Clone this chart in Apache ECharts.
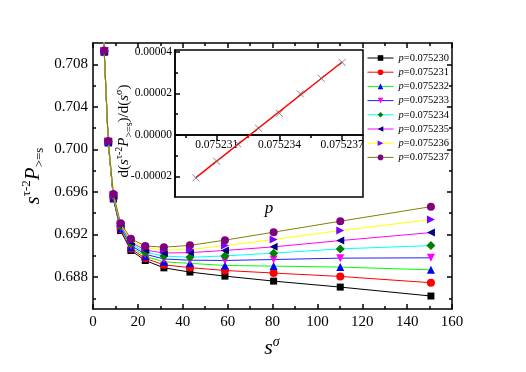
<!DOCTYPE html>
<html><head><meta charset="utf-8">
<script src="https://cdn.jsdelivr.net/npm/echarts@6/dist/echarts.min.js"></script>
<style>html,body{margin:0;padding:0;background:#fff}#c{width:526px;height:372px}</style>
</head><body><div id="c"></div>
<script>
// ---- data ----
const sSigma = [3.7, 5.0, 6.8, 9.1, 12.3, 16.9, 23.3, 31.6, 43.2, 58.8, 80.5, 110.2, 150.6];
const pNames = ['p=0.075230','p=0.075231','p=0.075232','p=0.075233','p=0.075234','p=0.075235','p=0.075236','p=0.075237'];
const y230 = [0.7178, 0.70915, 0.70062, 0.69534, 0.69237, 0.69050, 0.68956, 0.68887, 0.68847, 0.68809, 0.68762, 0.68706, 0.68622];
const y231 = [0.7179, 0.70917, 0.70065, 0.69541, 0.69247, 0.69066, 0.68976, 0.68915, 0.68889, 0.68862, 0.68838, 0.68806, 0.68747];
const y232 = [0.7179, 0.70919, 0.70067, 0.69547, 0.69257, 0.69081, 0.68995, 0.68943, 0.68929, 0.68909, 0.68903, 0.68894, 0.68868];
const y233 = [0.7180, 0.70921, 0.70070, 0.69554, 0.69267, 0.69097, 0.69015, 0.68970, 0.68959, 0.68956, 0.68965, 0.68978, 0.68981];
const y234 = [0.7180, 0.70923, 0.70072, 0.69561, 0.69277, 0.69113, 0.69034, 0.68998, 0.68986, 0.68999, 0.69025, 0.69065, 0.69096];
const y235 = [0.7181, 0.70925, 0.70075, 0.69567, 0.69287, 0.69128, 0.69054, 0.69026, 0.69030, 0.69050, 0.69084, 0.69143, 0.69218];
const y236 = [0.7181, 0.70928, 0.70077, 0.69574, 0.69297, 0.69144, 0.69074, 0.69054, 0.69058, 0.69096, 0.69153, 0.69237, 0.69340];
const y237 = [0.7182, 0.70930, 0.70080, 0.69581, 0.69307, 0.69160, 0.69093, 0.69081, 0.69098, 0.69147, 0.69222, 0.69325, 0.69462];
const mainYMajor = [0.688, 0.692, 0.696, 0.700, 0.704, 0.708];
const mainYMinor = [0.686, 0.690, 0.694, 0.698, 0.702, 0.706];
// inset
const insetP = [0.075230, 0.075231, 0.075232, 0.075233, 0.075234, 0.075235, 0.075236, 0.075237];
const insetD = [-2.08e-5, -1.28e-5, -0.43e-5, 0.32e-5, 1.04e-5, 1.98e-5, 2.73e-5, 3.50e-5];
const fitP = [0.075230, 0.075237];
const fitD = [-2.06e-5, 3.52e-5];
const insetXMajor = [0.075231, 0.075234, 0.075237];
const insetXMinor = [0.0752295, 0.0752325, 0.0752355];
const insetYMajor = [-0.00002, 0, 0.00002, 0.00004];
const insetYMinor = [-0.00001, 0.00001, 0.00003];
const insetYRange = [-0.00003, 0.000041];

// ---- layout / styles ----
const F = 'Liberation Serif';
const insetGrid = {left: 175, top: 50, right: 163, bottom: 175};
const insetH = 372 - insetGrid.top - insetGrid.bottom;
// place inset x axis at y = 0 (axis crosses zero)
const zeroOffset = -(0 - insetYRange[0]) / (insetYRange[1] - insetYRange[0]) * insetH;

const seriesY = [y230, y231, y232, y233, y234, y235, y236, y237];
const lineColors = ['#000000', '#ff0000', '#00ff00', '#2020ff', '#00ffff', '#ff00ff', '#ffff00', '#808000'];
const markColors = ['#000000', '#ff0000', '#0000ff', '#ff00ff', '#008000', '#000080', '#8000ff', '#800080'];
const symbols = ['rect', 'circle', 'triangle', 'triangle', 'diamond', 'triangle', 'triangle', 'circle'];
const rots = [0, 0, 0, 180, 0, 90, -90, 0];
const sizes = [7, 8, 8, 8, 9, 8, 8, 8];

const chart = echarts.init(document.getElementById('c'));
const blk = {color: '#000', width: 1.5};

const mainSeries = seriesY.map((ys, i) => ({
  name: pNames[i], type: 'line', xAxisIndex: 0, yAxisIndex: 0,
  data: sSigma.map((x, j) => [x, ys[j]]),
  symbol: symbols[i], symbolRotate: rots[i], symbolSize: sizes[i],
  lineStyle: {color: lineColors[i], width: 1},
  itemStyle: {color: markColors[i]},
  clip: true, animation: false, z: 2 + i
}));

chart.setOption({
  animation: false,
  backgroundColor: '#fff',
  grid: [
    {left: 93, top: 43, right: 74, bottom: 63, show: false, outerBoundsMode: 'none'},
    Object.assign({show: true, backgroundColor: '#fff', borderColor: '#000', borderWidth: 1.5, outerBoundsMode: 'none'}, insetGrid)
  ],
  xAxis: [
    {gridIndex: 0, type: 'value', position: 'bottom', min: 0, max: 160, interval: 20,
     axisLine: {lineStyle: blk, onZero: false},
     axisTick: {inside: true, length: 5, lineStyle: blk},
     minorTick: {show: true, splitNumber: 2, length: 3, lineStyle: blk},
     axisLabel: {fontFamily: F, fontSize: 15, color: '#000', margin: 6},
     splitLine: {show: false}},
    {gridIndex: 0, type: 'value', position: 'top', min: 0, max: 160, interval: 20,
     axisLine: {lineStyle: blk, onZero: false},
     axisTick: {inside: true, length: 5, lineStyle: blk},
     minorTick: {show: true, splitNumber: 2, length: 3, lineStyle: blk},
     axisLabel: {show: false}, splitLine: {show: false}},
    {gridIndex: 1, type: 'value', position: 'bottom', min: 0.075229, max: 0.075238, offset: zeroOffset, z: 12,
     axisLine: {onZero: false, lineStyle: blk},
     axisTick: {customValues: insetXMajor, inside: false, length: 5, lineStyle: blk},
     axisLabel: {customValues: insetXMajor, fontFamily: F, fontSize: 11.5, color: '#000', margin: 4,
                 formatter: v => v.toFixed(6)},
     splitLine: {show: false}},
    {gridIndex: 1, type: 'value', position: 'bottom', min: 0.075229, max: 0.075238, offset: zeroOffset, z: 12,
     axisLine: {onZero: false, lineStyle: blk},
     axisTick: {customValues: insetXMinor, inside: false, length: 3, lineStyle: blk},
     axisLabel: {show: false}, splitLine: {show: false}}
  ],
  yAxis: [
    {gridIndex: 0, type: 'value', position: 'left', min: 0.685, max: 0.710,
     axisLine: {show: true, lineStyle: blk, onZero: false},
     axisTick: {customValues: mainYMajor, inside: true, length: 5, lineStyle: blk},
     axisLabel: {customValues: mainYMajor, fontFamily: F, fontSize: 15, color: '#000', margin: 5,
                 formatter: v => v.toFixed(3)},
     splitLine: {show: false}},
    {gridIndex: 0, type: 'value', position: 'left', min: 0.685, max: 0.710,
     axisLine: {show: false, onZero: false},
     axisTick: {customValues: mainYMinor, inside: true, length: 3, lineStyle: blk},
     axisLabel: {show: false}, splitLine: {show: false}},
    {gridIndex: 0, type: 'value', position: 'right', min: 0.685, max: 0.710,
     axisLine: {show: true, lineStyle: blk, onZero: false},
     axisTick: {customValues: mainYMajor, inside: true, length: 5, lineStyle: blk},
     axisLabel: {show: false}, splitLine: {show: false}},
    {gridIndex: 0, type: 'value', position: 'right', min: 0.685, max: 0.710,
     axisLine: {show: false, onZero: false},
     axisTick: {customValues: mainYMinor, inside: true, length: 3, lineStyle: blk},
     axisLabel: {show: false}, splitLine: {show: false}},
    {gridIndex: 1, type: 'value', position: 'left', min: insetYRange[0], max: insetYRange[1], z: 12,
     axisLine: {show: true, lineStyle: blk, onZero: false},
     axisTick: {customValues: insetYMajor, inside: true, length: 5, lineStyle: blk},
     axisLabel: {customValues: insetYMajor, fontFamily: F, fontSize: 11.5, color: '#000', margin: 3,
                 formatter: v => v.toFixed(5)},
     splitLine: {show: false}},
    {gridIndex: 1, type: 'value', position: 'left', min: insetYRange[0], max: insetYRange[1], z: 12,
     axisLine: {show: false, onZero: false},
     axisTick: {customValues: insetYMinor, inside: true, length: 3, lineStyle: blk},
     axisLabel: {show: false}, splitLine: {show: false}}
  ],
  legend: {
    data: pNames, orient: 'vertical', left: 362, top: 47,
    itemWidth: 26, itemHeight: 7, itemGap: 2.2, selectedMode: false,
    lineStyle: {width: 1},
    formatter: n => '{i|p}{t|' + n.slice(1) + '}',
    textStyle: {fontFamily: F, fontSize: 10.5, color: '#000', lineHeight: 12,
      rich: {i: {fontFamily: F, fontSize: 10.5, fontStyle: 'italic', color: '#000', lineHeight: 12},
             t: {fontFamily: F, fontSize: 10.5, color: '#000', lineHeight: 12}}}
  },
  series: mainSeries.concat([
    {name: 'fit', type: 'line', xAxisIndex: 2, yAxisIndex: 4, data: fitP.map((p, i) => [p, fitD[i]]),
     showSymbol: false, symbol: 'none', lineStyle: {color: '#ff0000', width: 1.5}, z: 20, silent: true},
    {name: 'deriv', type: 'scatter', xAxisIndex: 2, yAxisIndex: 4, data: insetP.map((p, i) => [p, insetD[i]]),
     symbol: 'path://M0,0L10,10M10,0L0,10', symbolSize: 7,
     itemStyle: {color: 'none', borderColor: '#666', borderWidth: 1}, z: 21, silent: true}
  ]),
  graphic: [
    {type: 'text', x: 33, y: 176, rotation: Math.PI / 2, z: 100,
     style: {text: '{s|s}{sup|τ-2}{P|P}{sub|>=s}', align: 'center', verticalAlign: 'middle',
       rich: {s: {fontFamily: F, fontSize: 21, fontStyle: 'italic', lineHeight: 26, verticalAlign: 'middle', fill: '#000'},
              P: {fontFamily: F, fontSize: 21, fontStyle: 'italic', lineHeight: 26, verticalAlign: 'middle', fill: '#000'},
              sup: {fontFamily: F, fontSize: 13, lineHeight: 13, verticalAlign: 'top', fill: '#000'},
              sub: {fontFamily: F, fontSize: 13, lineHeight: 13, verticalAlign: 'bottom', fill: '#000'}}}},
    {type: 'text', x: 272, y: 348, z: 100,
     style: {text: '{s|s}{sup|σ}', align: 'center', verticalAlign: 'middle',
       rich: {s: {fontFamily: F, fontSize: 22, fontStyle: 'italic', lineHeight: 26, verticalAlign: 'middle', fill: '#000'},
              sup: {fontFamily: F, fontSize: 14, fontStyle: 'italic', lineHeight: 14, verticalAlign: 'top', fill: '#000'}}}},
    {type: 'text', x: 124, y: 131, rotation: Math.PI / 2, z: 100,
     style: {text: '{n|d(}{s|s}{sup|τ-2}{P|P}{sub|>=s}{n|)/d(}{s|s}{sup|σ}{n|)}', align: 'center', verticalAlign: 'middle',
       rich: {n: {fontFamily: F, fontSize: 15, lineHeight: 20, verticalAlign: 'middle', fill: '#000'},
              s: {fontFamily: F, fontSize: 15, fontStyle: 'italic', lineHeight: 20, verticalAlign: 'middle', fill: '#000'},
              P: {fontFamily: F, fontSize: 15, fontStyle: 'italic', lineHeight: 20, verticalAlign: 'middle', fill: '#000'},
              sup: {fontFamily: F, fontSize: 10, lineHeight: 10, verticalAlign: 'top', fill: '#000'},
              sub: {fontFamily: F, fontSize: 10, lineHeight: 10, verticalAlign: 'bottom', fill: '#000'}}}},
    {type: 'text', x: 269, y: 209, z: 100,
     style: {text: 'p', align: 'center', verticalAlign: 'middle', fontFamily: F, fontSize: 17, fontStyle: 'italic', fill: '#000'}}
  ]
});
</script></body></html>
